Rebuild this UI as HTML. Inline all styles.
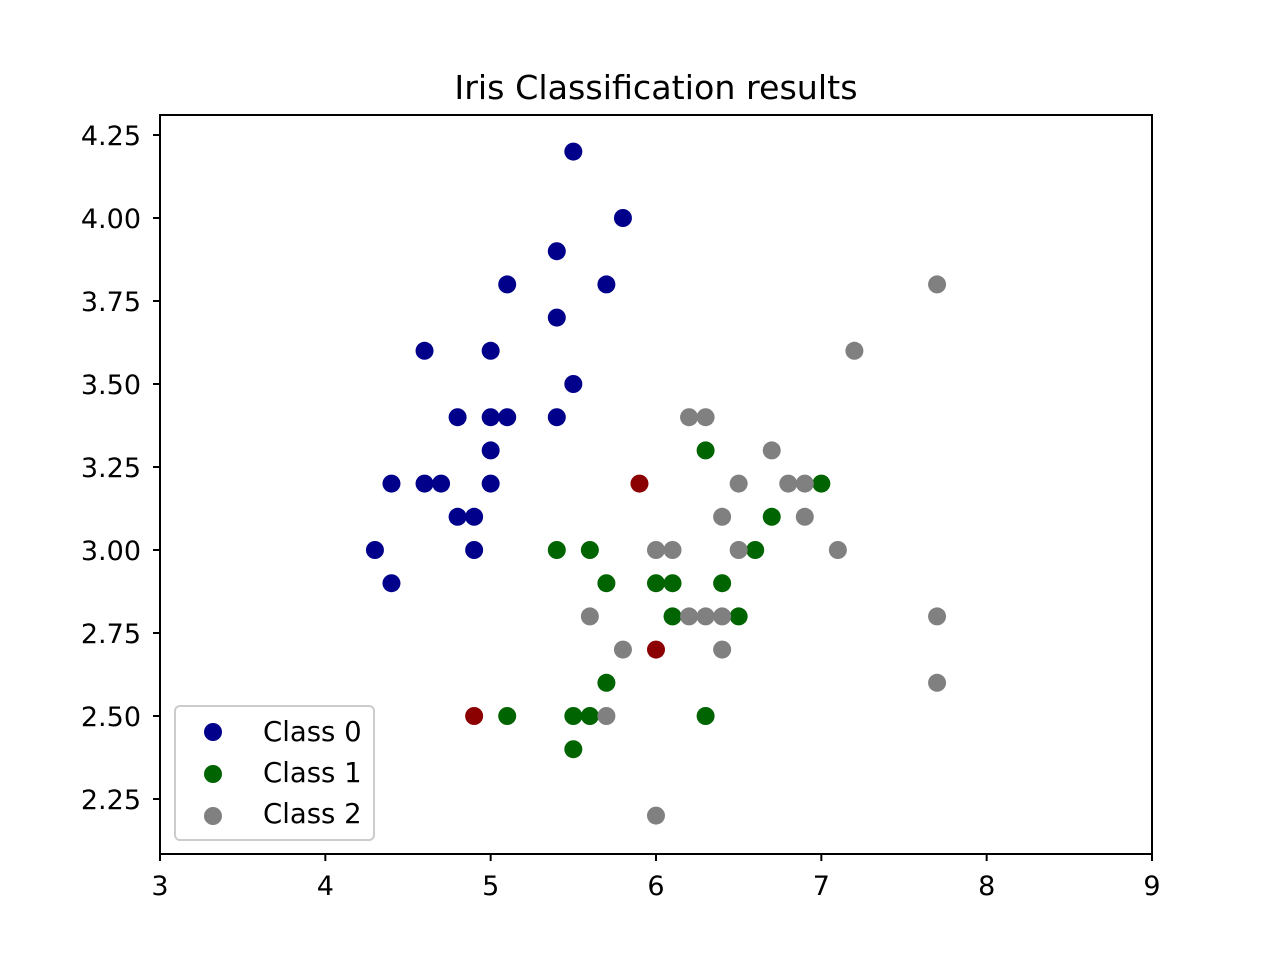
<!DOCTYPE html>
<html><head><meta charset="utf-8"><style>
body{margin:0;background:#fff}
svg text{font-family:"DejaVu Sans","Liberation Sans",sans-serif;fill:#000}
</style></head><body>
<svg id="chart" width="1280" height="960" xmlns="http://www.w3.org/2000/svg">
<rect width="1280" height="960" fill="#fff"/>
<text x="656" y="99" font-size="33.3" text-anchor="middle">Iris Classification results</text>
<g id="marks"></g>
<rect x="160" y="115" width="992" height="739" fill="none" stroke="#000" stroke-width="2"/>
<g id="axes"></g>
<g>
<rect x="175" y="706" width="199" height="134" rx="5" fill="#fff" fill-opacity="0.8" stroke="#ccc" stroke-width="2"/>
<circle cx="213" cy="732" r="9" fill="#00008b"/>
<text x="263" y="741" font-size="27.5">Class 0</text>
<circle cx="213" cy="774" r="9" fill="#006400"/>
<text x="263" y="782" font-size="27.5">Class 1</text>
<circle cx="213" cy="816" r="9" fill="#808080"/>
<text x="263" y="823" font-size="27.5">Class 2</text>
</g>
</svg>
<script>
const xTicks=[3,4,5,6,7,8,9];
const yTicks=[2.25,2.5,2.75,3.0,3.25,3.5,3.75,4.0,4.25];
const yTickLabels=["2.25","2.50","2.75","3.00","3.25","3.50","3.75","4.00","4.25"];
const class0X=[5.5,5.8,5.4,5.1,5.7,5.4,4.6,5.0,5.5,4.8,5.0,5.1,5.4,5.0,4.4,4.6,4.7,5.0,4.8,4.9,4.3,4.9,4.4];
const class0Y=[4.2,4.0,3.9,3.8,3.8,3.7,3.6,3.6,3.5,3.4,3.4,3.4,3.4,3.3,3.2,3.2,3.2,3.2,3.1,3.1,3.0,3.0,2.9];
const class1X=[6.3,7.0,6.7,5.4,5.6,6.6,5.7,6.0,6.1,6.4,6.1,6.5,5.7,5.1,5.5,5.6,6.3,5.5];
const class1Y=[3.3,3.2,3.1,3.0,3.0,3.0,2.9,2.9,2.9,2.9,2.8,2.8,2.6,2.5,2.5,2.5,2.5,2.4];
const class2X=[7.7,7.2,6.2,6.3,6.7,6.5,6.8,6.9,6.4,6.9,6.0,6.1,6.5,7.1,5.6,6.2,6.3,6.4,7.7,5.8,6.4,7.7,5.7,6.0];
const class2Y=[3.8,3.6,3.4,3.4,3.3,3.2,3.2,3.2,3.1,3.1,3.0,3.0,3.0,3.0,2.8,2.8,2.8,2.8,2.8,2.7,2.7,2.6,2.5,2.2];
const wrongX=[5.9,6.0,4.9];
const wrongY=[3.2,2.7,2.5];
const NS="http://www.w3.org/2000/svg";
const xs=v=>160+(v-3)*992/6;
const ys=v=>135+(4.25-v)*332;
const marks=document.getElementById('marks'),axes=document.getElementById('axes');
function el(tag,attrs,parent){const e=document.createElementNS(NS,tag);for(const k in attrs)e.setAttribute(k,attrs[k]);parent.appendChild(e);return e;}
function series(X,Y,color,name){X.forEach((x,i)=>{const c=el('circle',{cx:xs(x),cy:ys(Y[i]),r:9,fill:color},marks);

});}
series(class0X,class0Y,'#00008b','class-0');
series(class1X,class1Y,'#006400','class-1');
series(class2X,class2Y,'#808080','class-2');
series(wrongX,wrongY,'#8b0000','misclassified');
xTicks.forEach(t=>{const x=xs(t);
const l=el('line',{x1:x,x2:x,y1:854,y2:861,stroke:'#000','stroke-width':2},axes);


const tx=el('text',{x:x,y:895,'font-size':27,'text-anchor':'middle'},axes);tx.textContent=String(t);

});
yTicks.forEach((t,i)=>{const y=ys(t);
const l=el('line',{x1:153,x2:160,y1:y,y2:y,stroke:'#000','stroke-width':2},axes);


const tx=el('text',{x:141,y:y+10,'font-size':27,'text-anchor':'end'},axes);tx.textContent=yTickLabels[i];

});
</script>
</body></html>
